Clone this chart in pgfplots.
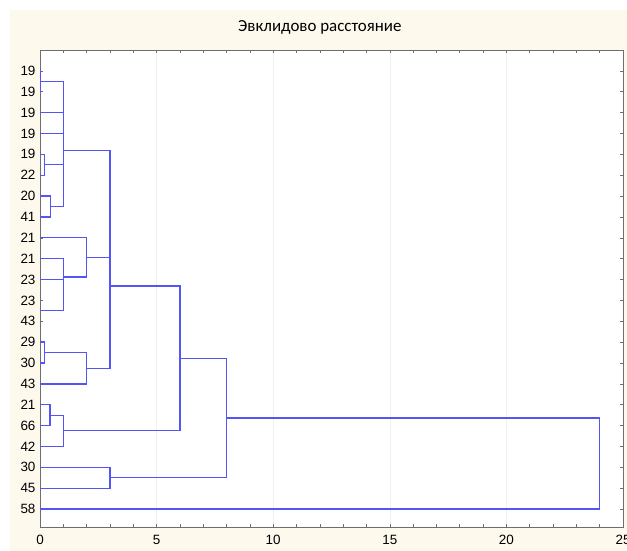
\documentclass[border=0pt]{standalone}
\usepackage{fontspec}
\setmainfont{Liberation Sans}
\newfontfamily\titlefont{Carlito}
\usepackage{pgfplots}
\pgfplotsset{compat=1.18}
\definecolor{cream}{RGB}{253,249,237}
\definecolor{dblue}{RGB}{85,85,245}
\definecolor{axgray}{RGB}{110,110,110}
\begin{document}
\begin{tikzpicture}[x=1bp,y=1bp]
\useasboundingbox (0,0) rectangle (627,-551);
\fill[cream] (10,-10) rectangle (627,-551);
\begin{axis}[
  at={(40bp,-50bp)}, anchor=north west,
  width=583bp, height=477bp, scale only axis,
  xmin=0, xmax=25, ymin=0, ymax=22.86, y dir=reverse,
  axis background/.style={fill=white},
  xtick={0,5,...,25}, minor x tick num=4,
  ytick={1,...,22},
  yticklabels={19,19,19,19,19,22,20,41,21,21,23,23,43,29,30,43,21,66,42,30,45,58},
  tick align=inside, major tick length=3bp, minor tick length=3bp,
  tick style={axgray, line width=0.6bp},
  axis line style={axgray, line width=1bp},
  xmajorgrids, major grid style={black!6, line width=0.5bp},
  ticklabel style={font=\fontsize{13.5}{16}\selectfont},
  /pgf/number format/assume math mode=true,
  xticklabel style={yshift=-5bp},
  yticklabel style={xshift=-1bp},
  title={\titlefont\fontsize{17}{20}\selectfont Эвклидово расстояние},
  title style={at={(axis description cs:0.48,1)}, anchor=base, yshift=12.5bp},
  link/.style={dblue, line width=1.3bp, mark=none},
  clip=false,
]
\addplot[link] coordinates {(0,1)(0.03,1)(0.03,2)(0,2)};
\addplot[link] coordinates {(0.03,1.5)(1,1.5)(1,3)(0,3)};
\addplot[link] coordinates {(1,2.25)(1,4)(0,4)};
\addplot[link] coordinates {(0,5)(0.2,5)(0.2,6)(0,6)};
\addplot[link] coordinates {(0,7)(0.45,7)(0.45,8)(0,8)};
\addplot[link] coordinates {(0.2,5.5)(1,5.5)(1,7.5)(0.45,7.5)};
\addplot[link] coordinates {(1,3.125)(1,6.5)};
\addplot[link] coordinates {(0,11)(1,11)(1,12.5)(0,12.5)};
\addplot[link] coordinates {(0,10)(1,10)(1,11.75)};
\addplot[link] coordinates {(0,9)(2,9)(2,10.875)(1,10.875)};
\addplot[link] coordinates {(0,14)(0.18,14)(0.18,15)(0,15)};
\addplot[link] coordinates {(0.18,14.5)(2,14.5)(2,16)(0,16)};
\addplot[link] coordinates {(1,4.8125)(3,4.8125)(3,9.9375)(2,9.9375)};
\addplot[link] coordinates {(3,7.375)(3,15.25)(2,15.25)};
\addplot[link] coordinates {(0,17)(0.43,17)(0.43,18)(0,18)};
\addplot[link] coordinates {(0.43,17.5)(1,17.5)(1,19)(0,19)};
\addplot[link] coordinates {(3,11.3125)(6,11.3125)(6,18.25)(1,18.25)};
\addplot[link] coordinates {(0,20)(3,20)(3,21)(0,21)};
\addplot[link] coordinates {(6,14.78125)(8,14.78125)(8,20.5)(3,20.5)};
\addplot[link] coordinates {(8,17.640625)(24,17.640625)(24,22)(0,22)};
\end{axis}
\end{tikzpicture}
\end{document}
